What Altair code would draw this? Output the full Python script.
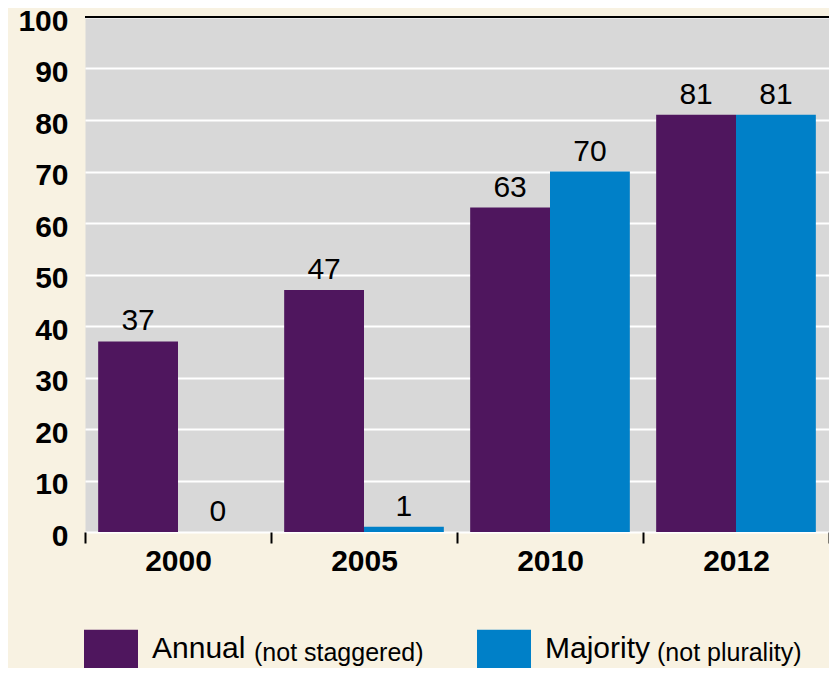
import altair as alt
import pandas as pd

years = ["2000", "2005", "2010", "2012"]
annual = [37, 47, 63, 81]
majority = [0, 1, 70, 81]
series = ["Annual", "Majority"]
series_notes = ["(not staggered)", "(not plurality)"]
colors = ["#4f165e", "#0080c8"]
y_ticks = list(range(0, 101, 10))

rows = []
for i, yr in enumerate(years):
    rows.append({"year": yr, "series": series[0], "value": annual[i]})
    rows.append({"year": yr, "series": series[1], "value": majority[i]})
df = pd.DataFrame(rows)

FONT = "Liberation Sans"

x = alt.X(
    "year:N", sort=years, title=None,
    scale=alt.Scale(paddingInner=0, paddingOuter=0),
    axis=alt.Axis(labelAngle=0, tickBand="extent", domain=False, ticks=True,
                  tickSize=11, tickWidth=2, tickColor="black",
                  labelFontSize=30, labelFontWeight="bold", labelPadding=3,
                  labelColor="black", grid=False),
)
xo = alt.XOffset("series:N", sort=series,
                 scale=alt.Scale(paddingOuter=0.165, paddingInner=0))
y = alt.Y(
    "value:Q", title=None,
    scale=alt.Scale(domain=[0, 100], nice=False),
    axis=alt.Axis(values=y_ticks, grid=True, gridColor="white", gridWidth=2,
                  domain=False, ticks=False, labelFontSize=30,
                  labelFontWeight="bold", labelPadding=17, labelColor="black",
                  labelOffset=4),
)
color = alt.Color(
    "series:N", sort=series,
    scale=alt.Scale(domain=series, range=colors),
    legend=alt.Legend(orient="none", legendX=-1, legendY=605,
                      direction="horizontal", title=None,
                      symbolType="M-1,-0.72H1V0.72H-1Z", symbolSize=2916,
                      symbolStrokeWidth=0, symbolOpacity=1,
                      labelFontSize=30, labelOffset=14, columnPadding=231,
                      padding=0, labelColor="black", labelFont=FONT),
)

base = alt.Chart(df)
bars = base.mark_bar(opacity=1).encode(x=x, xOffset=xo, y=y, color=color)
labels = base.mark_text(dy=-11, baseline="alphabetic", fontSize=30,
                        color="black").encode(x=x, xOffset=xo, y=y,
                                               text="value:Q")
top_rule = alt.Chart(pd.DataFrame({"v": [100]})).mark_rule(
    color="black", strokeWidth=2).encode(y=alt.Y("v:Q"))

note1 = alt.Chart(pd.DataFrame({"t": [series_notes[0]]})).mark_text(
    align="left", baseline="alphabetic", fontSize=25, color="black").encode(
    text="t:N", x=alt.value(169), y=alt.value(643.5))
note2 = alt.Chart(pd.DataFrame({"t": [series_notes[1]]})).mark_text(
    align="left", baseline="alphabetic", fontSize=25, color="black").encode(
    text="t:N", x=alt.value(572), y=alt.value(643.5))

chart = alt.layer(bars, labels, top_rule, note1, note2).properties(
    width=744, height=515,
    autosize=alt.AutoSizeParams(type="none"),
    padding={"left": 77, "top": 9, "right": 0, "bottom": 136},
    background="#f8f2e2",
).configure(font=FONT).configure_view(fill="#d8d8d8", stroke="transparent")

chart.save("out.html", embed_options={"renderer": "svg", "actions": False})
